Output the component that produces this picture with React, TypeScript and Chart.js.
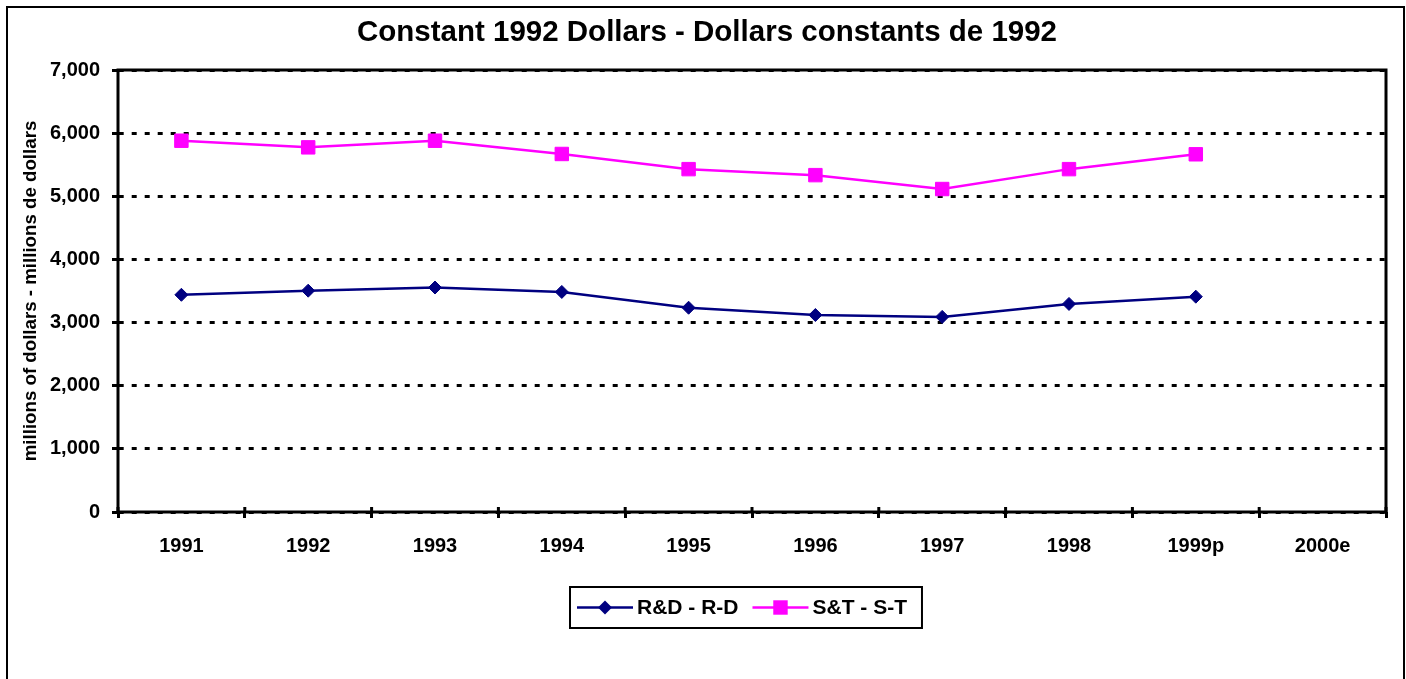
import { useEffect, useRef } from "react";
import { Chart, registerables } from "chart.js";

Chart.register(...registerables);

const categories = ["1991", "1992", "1993", "1994", "1995", "1996", "1997", "1998", "1999p", "2000e"];
const rdValues = [3440, 3505, 3555, 3485, 3235, 3120, 3090, 3295, 3410, null];
const stValues = [5880, 5775, 5880, 5670, 5430, 5335, 5115, 5430, 5665, null];
const seriesLabels = ["R&D - R-D", "S&T - S-T"];
const titleText = "Constant 1992 Dollars - Dollars constants de 1992";
const yAxisTitle = "millions of dollars - millions de dollars";
const yMin = 0;
const yMax = 7000;
const yStep = 1000;

const FONT = '"Liberation Sans", Arial, sans-serif';

const framePlugin = {
  id: "frame",
  beforeDraw(chart: any) {
    const ctx = chart.ctx;
    ctx.save();
    ctx.fillStyle = "#ffffff";
    ctx.fillRect(0, 0, chart.width, chart.height);
    ctx.restore();
  },
  afterDraw(chart: any) {
    const ctx = chart.ctx;
    const ca = chart.chartArea;
    ctx.save();
    // outer border
    ctx.strokeStyle = "#000";
    ctx.lineWidth = 2;
    ctx.setLineDash([]);
    ctx.strokeRect(7, 7, 1397, 800);
    // plot area box
    ctx.lineWidth = 3;
    ctx.strokeRect(ca.left, ca.top, ca.right - ca.left, ca.bottom - ca.top);
    // x ticks crossing into plot area
    const n = chart.data.labels.length;
    const w = (ca.right - ca.left) / n;
    ctx.beginPath();
    for (let i = 0; i <= n; i++) {
      const x = ca.left + i * w;
      ctx.moveTo(x, ca.bottom - 5);
      ctx.lineTo(x, ca.bottom);
    }
    ctx.stroke();

    // legend
    ctx.font = `bold 21px ${FONT}`;
    ctx.textBaseline = "middle";
    ctx.textAlign = "left";
    const ds = chart.data.datasets;
    const lineLen = 56, pad = 7, gapText = 4, gapItem = 14, padR = 15;
    const widths = ds.map((d: any) => ctx.measureText(d.label).width);
    let total = pad + padR + gapItem * (ds.length - 1);
    widths.forEach((wd: number) => (total += lineLen + gapText + wd));
    const cx = (ca.left + ca.right) / 2 - 6;
    const left = Math.round(cx - total / 2);
    const top = ca.bottom + 75;
    const h = 41;
    ctx.lineWidth = 2;
    ctx.strokeStyle = "#000";
    ctx.strokeRect(left, top, total, h);
    let x = left + pad;
    const cy = top + h / 2;
    ds.forEach((d: any, i: number) => {
      ctx.strokeStyle = d.borderColor;
      ctx.lineWidth = d.borderWidth;
      ctx.beginPath();
      ctx.moveTo(x, cy);
      ctx.lineTo(x + lineLen, cy);
      ctx.stroke();
      const mx = x + lineLen / 2;
      ctx.fillStyle = d.pointBackgroundColor;
      ctx.beginPath();
      if (d.pointStyle === "rectRot") {
        const r = d.pointRadius + 0.5;
        ctx.moveTo(mx, cy - r);
        ctx.lineTo(mx + r, cy);
        ctx.lineTo(mx, cy + r);
        ctx.lineTo(mx - r, cy);
        ctx.closePath();
      } else {
        const s = d.pointRadius * Math.SQRT1_2 + 0.5;
        ctx.rect(mx - s, cy - s, 2 * s, 2 * s);
      }
      ctx.fill();
      x += lineLen + gapText;
      ctx.fillStyle = "#000";
      ctx.fillText(d.label, x, cy + 1);
      x += widths[i] + gapItem;
    });
    ctx.restore();
  },
};

export default function App() {
  const ref = useRef<HTMLCanvasElement | null>(null);

  useEffect(() => {
    if (!ref.current) return;
    const chart = new Chart(ref.current, {
      type: "line",
      data: {
        labels: categories,
        datasets: [
          {
            label: seriesLabels[0],
            data: rdValues,
            borderColor: "#000080",
            backgroundColor: "#000080",
            pointBackgroundColor: "#000080",
            pointBorderColor: "#000080",
            borderWidth: 2.5,
            pointStyle: "rectRot",
            pointRadius: 6.5,
            pointBorderWidth: 1,
            tension: 0,
            fill: false,
          },
          {
            label: seriesLabels[1],
            data: stValues,
            borderColor: "#FF00FF",
            backgroundColor: "#FF00FF",
            pointBackgroundColor: "#FF00FF",
            pointBorderColor: "#FF00FF",
            borderWidth: 2.5,
            pointStyle: "rect",
            pointRadius: 9.5,
            pointBorderWidth: 1,
            tension: 0,
            fill: false,
          },
        ],
      },
      options: {
        responsive: false,
        animation: false,
        devicePixelRatio: 1,
        layout: { padding: { left: 28, right: 20, top: 0, bottom: 0 } },
        plugins: {
          legend: { display: false },
          tooltip: { enabled: false },
          title: {
            display: true,
            text: titleText,
            color: "#000",
            font: { family: FONT, size: 29.5, weight: "bold", lineHeight: 1.2 },
            padding: { top: 14.8, bottom: 19.8 },
          },
        },
        scales: {
          x: {
            type: "category",
            offset: true,
            afterFit: (s: any) => {
              s.height = 167;
            },
            grid: {
              display: true,
              drawOnChartArea: false,
              drawTicks: true,
              offset: true,
              tickLength: 6,
              tickWidth: 3,
              tickColor: "#000",
              color: "#000",
            },
            border: { display: false },
            ticks: {
              color: "#000",
              padding: 16,
              maxRotation: 0,
              autoSkip: false,
              font: { family: FONT, size: 20, weight: "bold" },
            },
          },
          y: {
            min: yMin,
            max: yMax,
            afterFit: (s: any) => {
              s.width = 90;
            },
            grid: {
              color: "#000",
              lineWidth: 3,
              drawTicks: true,
              tickLength: 6,
              tickWidth: 3,
              tickColor: "#000",
            },
            border: { display: false, dash: [5, 8], dashOffset: 12.3 },
            ticks: {
              stepSize: yStep,
              color: "#000",
              padding: 12,
              font: { family: FONT, size: 20, weight: "bold" },
              callback: (v: any) => Number(v).toLocaleString("en-US"),
            },
            title: {
              display: true,
              text: yAxisTitle,
              color: "#000",
              font: { family: FONT, size: 18.7, weight: "bold", lineHeight: 1.2 },
              padding: { top: -8, bottom: 0 },
            },
          },
        },
      },
      plugins: [framePlugin],
    } as any);
    return () => chart.destroy();
  }, []);

  return (
    <div style={{ position: "fixed", left: 0, top: 0, width: 1406, height: 679, background: "#fff" }}>
      <canvas ref={ref} width={1406} height={679} style={{ display: "block", width: 1406, height: 679 }} />
    </div>
  );
}
